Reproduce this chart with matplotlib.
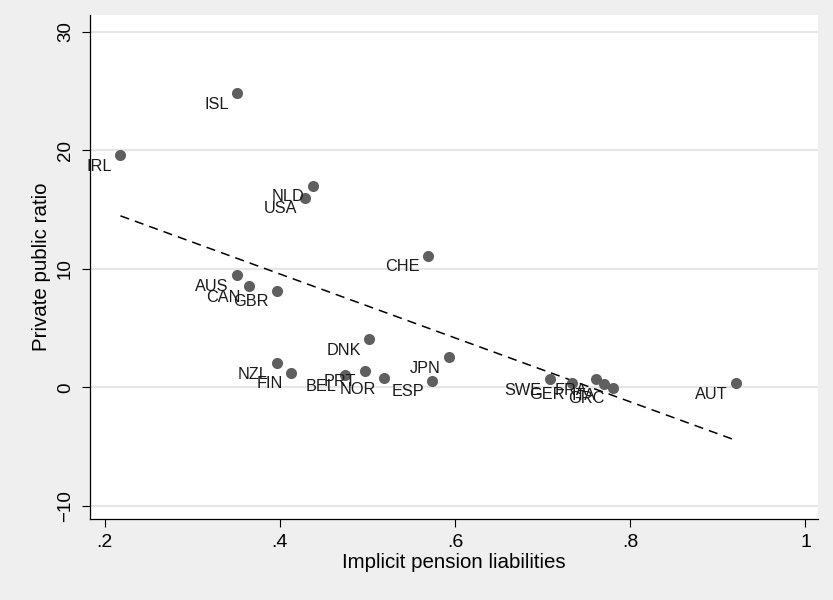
import numpy as np
import matplotlib
matplotlib.use("Agg")
import matplotlib.pyplot as plt

# Countries, implicit pension liabilities (x) and private/public ratio (y)
countries = ["IRL", "ISL", "NLD", "USA", "CHE", "AUS", "CAN", "GBR", "DNK", "JPN",
             "NZL", "FIN", "BEL", "PRT", "NOR", "ESP", "SWE", "GER", "FRA", "ITA",
             "GRC", "AUT"]
liabilities = [0.218, 0.351, 0.438, 0.429, 0.569, 0.351, 0.365, 0.397, 0.502, 0.593,
               0.397, 0.413, 0.474, 0.497, 0.519, 0.574, 0.708, 0.734, 0.761, 0.770,
               0.780, 0.921]
ratio = [19.6, 24.8, 17.0, 16.0, 11.1, 9.45, 8.54, 8.15, 4.07, 2.53,
         2.02, 1.23, 1.04, 1.40, 0.76, 0.56, 0.67, 0.34, 0.67, 0.28,
         -0.03, 0.34]

x_ticks = [0.2, 0.4, 0.6, 0.8, 1.0]
x_ticklabels = [".2", ".4", ".6", ".8", "1"]
y_ticks = [-10, 0, 10, 20, 30]
y_ticklabels = ["\u221210", "0", "10", "20", "30"]

plt.rcParams["font.family"] = ["Liberation Sans", "DejaVu Sans"]

fig = plt.figure(figsize=(8.33, 6.0), dpi=100, facecolor="#efefef")
ax = fig.add_axes([0.108, 0.135, 0.874, 0.84])
ax.set_facecolor("white")

# horizontal grid
for yt in y_ticks:
    ax.axhline(yt, color="#e6e6e6", lw=1.6, zorder=0)

ax.scatter(liabilities, ratio, s=64, color="#5f5f5f", zorder=3, linewidths=0)

for name, xv, yv in zip(countries, liabilities, ratio):
    ax.annotate(name, (xv, yv), xytext=(-6, -8), textcoords="offset points",
                ha="right", va="center", fontsize=11.7, color="#1a1a1a", zorder=4)

# linear fit
x = np.array(liabilities)
slope, intercept = np.polyfit(x, np.array(ratio), 1)
xs = np.array([x.min(), x.max()])
ax.plot(xs, intercept + slope * xs, color="black", lw=1.1, ls=(0, (6, 4)), zorder=2)

ax.set_xlim(0.1832, 1.0143)
ax.set_ylim(-11.1, 31.4)
ax.set_xticks(x_ticks)
ax.set_xticklabels(x_ticklabels, fontsize=14)
ax.set_yticks(y_ticks)
ax.set_yticklabels(y_ticklabels, fontsize=13.5, rotation=90, va="center")
ax.tick_params(direction="out", length=5.5, width=0.8, color="black")
ax.tick_params(axis="x", pad=5)
ax.tick_params(axis="y", pad=6)

for side in ["top", "right"]:
    ax.spines[side].set_visible(False)
for side in ["left", "bottom"]:
    ax.spines[side].set_color("black")
    ax.spines[side].set_linewidth(0.9)

ax.set_xlabel("Implicit pension liabilities", fontsize=14.8, labelpad=2)
ax.set_ylabel("Private public ratio", fontsize=14.8, labelpad=4)

plt.savefig("out.png", dpi=100, facecolor=fig.get_facecolor())
